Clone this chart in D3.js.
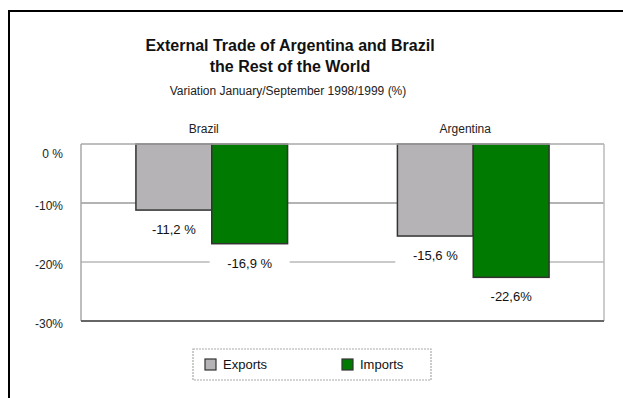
<!DOCTYPE html>
<html>
<head>
<meta charset="utf-8">
<script src="https://cdn.jsdelivr.net/npm/d3@7"></script>
<style>
  html, body { margin: 0; padding: 0; background: #fff; }
  svg { display: block; font-family: "Liberation Sans", Arial, sans-serif; }
</style>
</head>
<body>
<svg id="chart" width="623" height="398"></svg>
<script>
// Trade variation, January–September 1998/1999 (%)
const countries = ["Brazil", "Argentina"];
const seriesNames = ["Exports", "Imports"];
const exportsValues = [-11.2, -15.6];
const importsValues = [-16.9, -22.6];
const exportsLabels = ["-11,2 %", "-15,6 %"];
const importsLabels = ["-16,9 %", "-22,6%"];
const yTicks = [0, -10, -20, -30];
const yTickLabels = ["0 %", "-10%", "-20%", "-30%"];
const seriesColors = ["#b5b3b6", "#007a00"];

const svg = d3.select("#chart");

// outer frame (runs off the right and bottom edges)
svg.append("rect")
  .attr("x", 9).attr("y", 11)
  .attr("width", 640).attr("height", 400)
  .attr("fill", "none").attr("stroke", "#000").attr("stroke-width", 2);

const plot = { left: 81, right: 604, top: 144, bottom: 321 };

const x0 = d3.scaleBand()
  .domain(countries)
  .range([plot.left, plot.right])
  .paddingInner(0.42)
  .paddingOuter(0.21);

const x1 = d3.scaleBand()
  .domain(seriesNames)
  .range([0, x0.bandwidth()]);

const y = d3.scaleLinear()
  .domain([-30, 0])
  .range([plot.bottom, plot.top]);

const rows = countries.map((c, i) => ({
  country: c,
  bars: [
    { series: "Exports", value: exportsValues[i], label: exportsLabels[i] },
    { series: "Imports", value: importsValues[i], label: importsLabels[i] }
  ]
}));

// titles
const title = svg.append("g").attr("text-anchor", "middle");
title.append("text").attr("x", 290).attr("y", 51)
  .attr("font-size", 16).attr("font-weight", "bold").attr("fill", "#111")
  .text("External Trade of Argentina and Brazil");
title.append("text").attr("x", 290).attr("y", 72)
  .attr("font-size", 16).attr("font-weight", "bold").attr("fill", "#111")
  .text("the Rest of the World");
title.append("text").attr("x", 288).attr("y", 95)
  .attr("font-size", 12).attr("fill", "#222")
  .text("Variation January/September 1998/1999 (%)");

// country headers
svg.append("g").selectAll("text")
  .data(countries)
  .join("text")
  .attr("x", d => x0(d) + x0.bandwidth() / 2 - 8)
  .attr("y", 133)
  .attr("text-anchor", "middle")
  .attr("font-size", 12).attr("fill", "#222")
  .text(d => d);

// plot background
svg.append("rect")
  .attr("x", plot.left).attr("y", plot.top)
  .attr("width", plot.right - plot.left).attr("height", plot.bottom - plot.top)
  .attr("fill", "#fff");

// gridlines
svg.append("g").selectAll("line")
  .data(yTicks.filter(t => t !== 0 && t !== -30))
  .join("line")
  .attr("x1", plot.left).attr("x2", plot.right)
  .attr("y1", d => y(d)).attr("y2", d => y(d))
  .attr("stroke", d => d === -10 ? "#9a9a9a" : "#b8b8b8")
  .attr("stroke-width", 1.5);

// y axis labels
const yAxis = d3.axisLeft(y)
  .tickValues(yTicks)
  .tickFormat((d, i) => yTickLabels[i])
  .tickSize(0)
  .tickPadding(18);
const ya = svg.append("g")
  .attr("transform", `translate(${plot.left},0)`)
  .call(yAxis);
ya.select(".domain").remove();
ya.selectAll("text")
  .attr("font-family", "Liberation Sans, Arial, sans-serif")
  .attr("font-size", 12).attr("fill", "#222")
  .attr("dy", d => d === 0 ? "1.1em" : "0.5em");

const groups = svg.append("g").selectAll("g")
  .data(rows)
  .join("g")
  .attr("transform", d => `translate(${x0(d.country)},0)`);

// white boxes behind value labels
groups.selectAll("rect.bg")
  .data(d => d.bars)
  .join("rect")
  .attr("class", "bg")
  .attr("x", d => x1(d.series) + x1.bandwidth() / 2 - 40)
  .attr("y", d => y(d.value) + 7)
  .attr("width", 80).attr("height", 22)
  .attr("fill", "#fff");

// bars
groups.selectAll("rect.bar")
  .data(d => d.bars)
  .join("rect")
  .attr("class", "bar")
  .attr("x", d => x1(d.series))
  .attr("y", y(0))
  .attr("width", x1.bandwidth())
  .attr("height", d => y(d.value) - y(0))
  .attr("fill", d => seriesColors[seriesNames.indexOf(d.series)])
  .attr("stroke", "#333")
  .attr("stroke-width", 1.5);

// value labels
groups.selectAll("text.val")
  .data(d => d.bars)
  .join("text")
  .attr("class", "val")
  .attr("x", d => x1(d.series) + x1.bandwidth() / 2)
  .attr("y", d => y(d.value) + 24)
  .attr("text-anchor", "middle")
  .attr("font-size", 13).attr("fill", "#111")
  .text(d => d.label);

// plot border
const border = svg.append("g").attr("fill", "none");
border.append("line")
  .attr("x1", plot.left).attr("x2", plot.right)
  .attr("y1", plot.top).attr("y2", plot.top)
  .attr("stroke", "#a8a8a8").attr("stroke-width", 1.5);
border.append("line")
  .attr("x1", plot.left).attr("x2", plot.left)
  .attr("y1", plot.top).attr("y2", plot.bottom)
  .attr("stroke", "#a8a8a8").attr("stroke-width", 1.5);
border.append("line")
  .attr("x1", plot.right).attr("x2", plot.right)
  .attr("y1", plot.top).attr("y2", plot.bottom)
  .attr("stroke", "#bbb").attr("stroke-width", 1.5);
border.append("line")
  .attr("x1", plot.left).attr("x2", plot.right)
  .attr("y1", plot.bottom).attr("y2", plot.bottom)
  .attr("stroke", "#666").attr("stroke-width", 2);

// legend
const legend = svg.append("g").attr("transform", "translate(193,349)");
legend.append("rect")
  .attr("width", 238).attr("height", 31)
  .attr("fill", "#fff").attr("stroke", "#aaa")
  .attr("stroke-width", 1.2).attr("stroke-dasharray", "2,1");
const items = legend.selectAll("g.item")
  .data(seriesNames)
  .join("g")
  .attr("class", "item")
  .attr("transform", (d, i) => `translate(${12 + i * 137},10)`);
items.append("rect")
  .attr("width", 11).attr("height", 11)
  .attr("fill", (d, i) => seriesColors[i])
  .attr("stroke", "#333").attr("stroke-width", 1.2);
items.append("text")
  .attr("x", 18).attr("y", 10)
  .attr("font-size", 13).attr("fill", "#111")
  .text(d => d);
</script>
</body>
</html>
